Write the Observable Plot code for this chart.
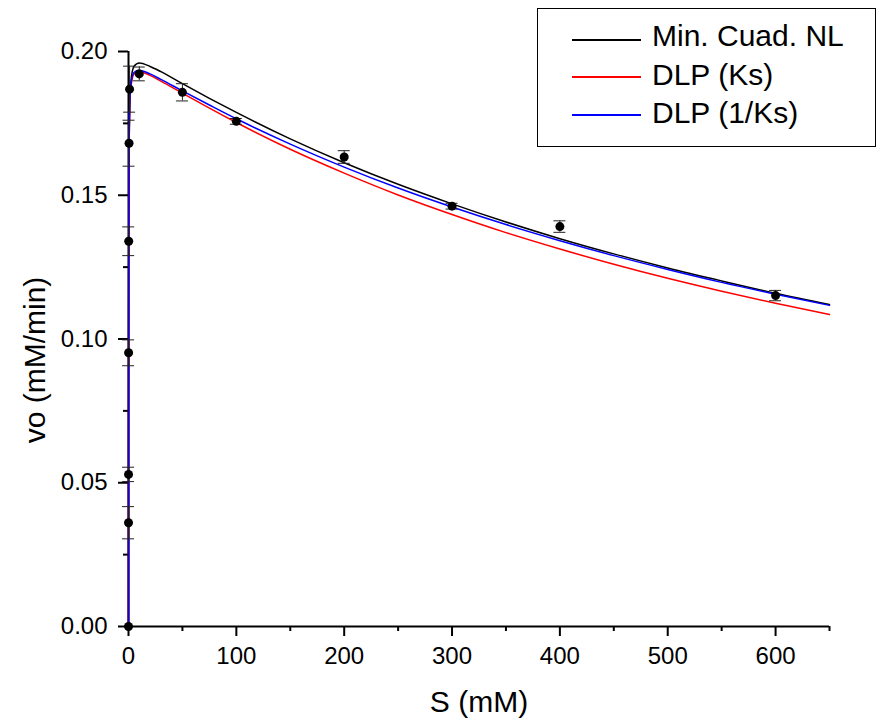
<!DOCTYPE html>
<html><head><meta charset="utf-8">
<script src="https://cdn.jsdelivr.net/npm/d3@7"></script>
<script src="https://cdn.jsdelivr.net/npm/@observablehq/plot@0.6"></script>
<style>
body{margin:0;background:#fff;}
#wrap{position:relative;width:876px;height:723px;font-family:Arial,"Liberation Sans",sans-serif;}
#legendBox{position:absolute;left:537px;top:8px;width:339px;height:139px;border:1.5px solid #000;box-sizing:border-box;background:#fff;}
.sw{position:absolute;left:572px;width:69px;height:2px;}
.lt{position:absolute;left:652px;font-size:30px;line-height:30px;height:30px;color:#000;white-space:nowrap;}
</style></head><body><div id="wrap"></div>
<script>
// Measured data points
const S_data   = [0, 0.02, 0.04, 0.1, 0.2, 0.5, 1, 10, 50, 100, 200, 300, 400, 600];
const vo_data  = [0, 0.0361, 0.0529, 0.0952, 0.134, 0.1681, 0.1869, 0.1922, 0.1858, 0.1757, 0.1633, 0.1462, 0.1391, 0.1151];
const err_data = [0, 0.0056, 0.0025, 0.0045, 0.005, 0.008, 0.008, 0.0024, 0.003, 0.001, 0.0022, 0.001, 0.002, 0.0018];

// Fitted curves
const S_curve = [0, 0.02, 0.05, 0.1, 0.2, 0.5, 1, 2, 5, 10, 20, 30, 50, 75, 100, 150, 200, 250, 300, 350, 400, 450, 500, 550, 600, 650];
const v_minCuad = [0, 0.0281, 0.0580, 0.0900, 0.1243, 0.1611, 0.1786, 0.1887, 0.1948, 0.1960, 0.1948, 0.1930, 0.1888, 0.1837, 0.1788, 0.1696, 0.1613, 0.1538, 0.1470, 0.1407, 0.1349, 0.1296, 0.1247, 0.1202, 0.1159, 0.1120];
const v_dlpKs   = [0, 0.0299, 0.0610, 0.0932, 0.1267, 0.1614, 0.1775, 0.1867, 0.1921, 0.1930, 0.1917, 0.1897, 0.1855, 0.1803, 0.1753, 0.1660, 0.1577, 0.1501, 0.1433, 0.1370, 0.1313, 0.1260, 0.1211, 0.1166, 0.1124, 0.1085];
const v_dlpInv  = [0, 0.0330, 0.0659, 0.0989, 0.1318, 0.1647, 0.1795, 0.1879, 0.1927, 0.1935, 0.1922, 0.1903, 0.1863, 0.1814, 0.1766, 0.1678, 0.1598, 0.1525, 0.1459, 0.1398, 0.1342, 0.1290, 0.1242, 0.1197, 0.1156, 0.1117];

const seriesNames  = ["Min. Cuad. NL", "DLP (Ks)", "DLP (1/Ks)"];
const seriesColors = ["#000000", "#ff0000", "#0000ff"];
const seriesValues = [v_minCuad, v_dlpKs, v_dlpInv];

const xMajor = [0, 100, 200, 300, 400, 500, 600];
const xMinor = [50, 150, 250, 350, 450, 550, 650];
const yMajor = [0, 0.05, 0.10, 0.15, 0.20];
const yMinor = [0.025, 0.075, 0.125, 0.175];

const points = S_data.map((s, i) => ({S: s, v: vo_data[i], lo: vo_data[i] - err_data[i], hi: vo_data[i] + err_data[i], e: err_data[i]}));
const errPts = points.filter(d => d.e > 0);
const curves = seriesNames.map((name, k) => S_curve.map((s, i) => ({S: s, v: seriesValues[k][i], series: name})));

const font = "Arial, 'Liberation Sans', sans-serif";
const plot = Plot.plot({
  width: 876, height: 723,
  marginLeft: 128, marginRight: 47, marginTop: 51, marginBottom: 97,
  x: {domain: [0, 650]},
  y: {domain: [0, 0.2]},
  style: {fontFamily: font, fontSize: "24px", background: "white", color: "black", overflow: "visible"},
  marks: [
    Plot.axisX({ticks: xMajor, tickSize: 10, tickPadding: 10, strokeWidth: 2, label: null, tickFormat: d => String(d)}),
    Plot.axisX({ticks: xMinor, tickSize: 5, strokeWidth: 2, label: null, tickFormat: () => ""}),
    Plot.axisY({ticks: yMajor, tickSize: 10, tickPadding: 11, strokeWidth: 2, label: null, tickFormat: d => d.toFixed(2)}),
    Plot.axisY({ticks: yMinor, tickSize: 5, strokeWidth: 2, label: null, tickFormat: () => ""}),
    Plot.ruleY([0], {strokeWidth: 2}),
    Plot.ruleX([0], {strokeWidth: 2}),
    ...curves.map((c, k) => Plot.line(c, {x: "S", y: "v", stroke: seriesColors[k], strokeWidth: 1.5, curve: "monotone-x"})),
    Plot.ruleX(errPts, {x: "S", y1: "lo", y2: "hi", stroke: "#222", strokeWidth: 1}),
    Plot.ruleY(errPts, {y: "hi", x1: "S", x2: "S", insetLeft: -6, insetRight: -6, stroke: "#222", strokeWidth: 1}),
    Plot.ruleY(errPts, {y: "lo", x1: "S", x2: "S", insetLeft: -6, insetRight: -6, stroke: "#222", strokeWidth: 1}),
    Plot.dot(points, {x: "S", y: "v", r: 4.5, fill: "black"}),
    Plot.text(["S (mM)"], {frameAnchor: "bottom", textAnchor: "middle", dy: 85, lineAnchor: "bottom", fontSize: 30}),
    Plot.text(["vo (mM/min)"], {frameAnchor: "left", textAnchor: "middle", rotate: -90, dx: -84, dy: 21, lineAnchor: "bottom", fontSize: 30})
  ]
});
const wrap = document.getElementById("wrap");
wrap.appendChild(plot);

// Legend overlay
const box = document.createElement("div");
box.id = "legendBox";
wrap.appendChild(box);
const lineYs = [39, 76, 114];
const baselines = [46.7, 85.7, 123.3];
seriesNames.forEach((name, k) => {
  const sw = document.createElement("div");
  sw.className = "sw";
  sw.style.top = lineYs[k] + "px";
  sw.style.background = seriesColors[k];
  wrap.appendChild(sw);
  const t = document.createElement("div");
  t.className = "lt";
  t.style.top = Math.round(baselines[k] - 25.4) + "px";
  t.textContent = name;
  wrap.appendChild(t);
});
</script>
</body></html>
